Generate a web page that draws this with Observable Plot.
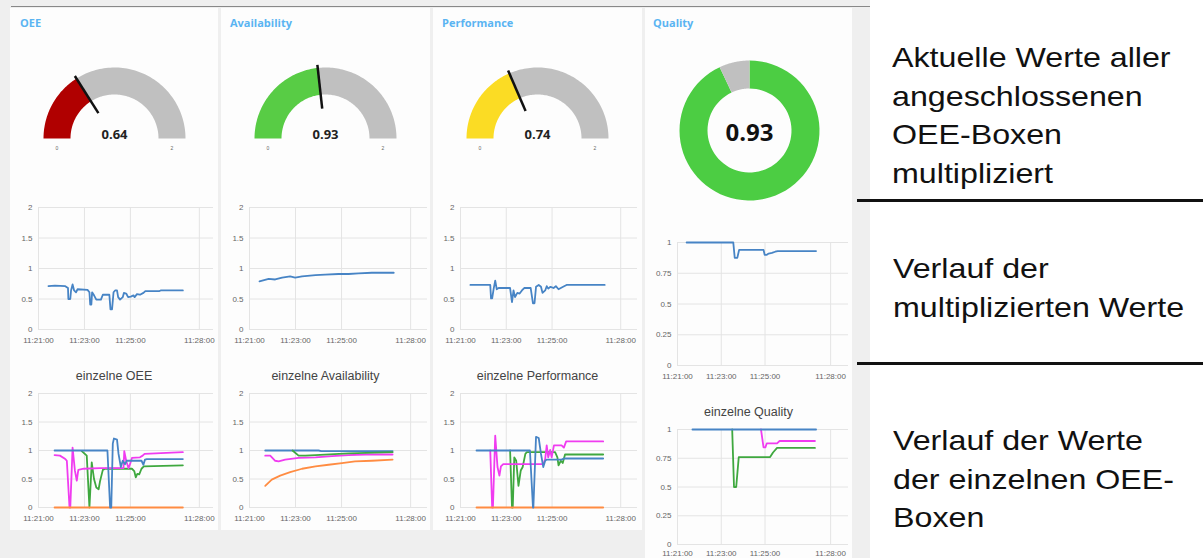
<!DOCTYPE html>
<html><head><meta charset="utf-8">
<script src="https://cdn.jsdelivr.net/npm/d3@7"></script>
<script src="https://cdn.jsdelivr.net/npm/@observablehq/plot@0.6"></script>
<style>
body{margin:0;width:1203px;height:558px;overflow:hidden;background:#fff;position:relative;font-family:"Liberation Sans",Arial,sans-serif}
.abs{position:absolute}
#dash{left:0;top:0;width:870px;height:558px;background:#efefef}
.card{background:#fdfdfd}
.ctitle{font-family:"Open Sans",sans-serif;font-weight:700;font-size:11px;line-height:14px;color:#5ab4f2;white-space:nowrap}
.stitle{font-family:"Liberation Sans",Arial,sans-serif;font-size:12.5px;line-height:16px;color:#444;text-align:center;white-space:nowrap}
.note{font-family:"Liberation Sans",Arial,sans-serif;font-size:28px;line-height:38.7px;color:#111;transform:scaleX(1.15);transform-origin:0 0;white-space:nowrap}
.bar{background:#111;height:3px}
</style></head><body>
<script>
// ---------- data ----------
const xTickLabels = ["11:21:00","11:23:00","11:25:00","11:28:00"];
const yTicks2 = [0,0.5,1,1.5,2];
const yTicks1 = [0,0.25,0.5,0.75,1];

const gaugeNames = ["OEE","Availability","Performance"];
const gaugeValues = [0.64,0.93,0.74];
const gaugeColors = ["#b00000","#58cc45","#fbdc24"];
const gaugeMin = 0, gaugeMax = 2;
const qualityValue = 0.93;

const bottomTitles = ["einzelne OEE","einzelne Availability","einzelne Performance","einzelne Quality"];

// multiplied values (row 2)
const oeeTotal = [["11:21:26",0.71],["11:21:43",0.72],["11:22:10",0.71],["11:22:17",0.68],["11:22:18",0.50],["11:22:23",0.50],["11:22:25",0.64],["11:22:29",0.74],["11:22:33",0.64],["11:22:38",0.61],["11:22:42",0.66],["11:23:08",0.65],["11:23:13",0.61],["11:23:15",0.41],["11:23:18",0.41],["11:23:20",0.61],["11:23:25",0.56],["11:23:31",0.49],["11:23:43",0.49],["11:23:48",0.57],["11:24:05",0.57],["11:24:08",0.33],["11:24:12",0.33],["11:24:16",0.61],["11:24:20",0.64],["11:24:25",0.64],["11:24:28",0.53],["11:24:33",0.49],["11:24:40",0.53],["11:24:43",0.60],["11:24:49",0.59],["11:24:54",0.53],["11:25:01",0.54],["11:25:08",0.56],["11:25:11",0.53],["11:25:17",0.58],["11:25:25",0.57],["11:25:34",0.60],["11:25:39",0.63],["11:26:16",0.63],["11:26:19",0.64],["11:27:17",0.64]];
const availabilityTotal = [["11:21:26",0.79],["11:21:50",0.83],["11:22:07",0.82],["11:22:25",0.85],["11:22:46",0.87],["11:22:59",0.85],["11:23:17",0.87],["11:23:52",0.89],["11:24:17",0.90],["11:24:52",0.91],["11:25:18",0.91],["11:25:44",0.92],["11:26:19",0.93],["11:27:16",0.93]];
const performanceTotal = [["11:21:26",0.73],["11:22:18",0.73],["11:22:20",0.51],["11:22:23",0.51],["11:22:27",0.67],["11:22:31",0.80],["11:22:35",0.66],["11:22:40",0.68],["11:23:10",0.68],["11:23:15",0.45],["11:23:19",0.64],["11:23:23",0.53],["11:23:29",0.60],["11:23:35",0.59],["11:23:41",0.64],["11:23:47",0.68],["11:24:04",0.68],["11:24:10",0.43],["11:24:14",0.43],["11:24:18",0.70],["11:24:25",0.73],["11:24:31",0.70],["11:24:35",0.60],["11:24:42",0.64],["11:24:46",0.71],["11:24:50",0.67],["11:24:56",0.70],["11:25:04",0.68],["11:25:10",0.71],["11:25:17",0.66],["11:25:23",0.68],["11:25:29",0.70],["11:25:38",0.73],["11:27:18",0.73]];
const qualityTotal = [["11:21:25",1.0],["11:23:33",1.0],["11:23:37",0.875],["11:23:44",0.875],["11:23:49",0.94],["11:24:56",0.94],["11:24:59",0.90],["11:25:05",0.90],["11:25:10",0.91],["11:25:19",0.915],["11:25:28",0.925],["11:25:35",0.93],["11:27:20",0.93]];

// individual boxes (row 3)
const oeeBlue = [["11:21:42",1.0],["11:24:00",1.0],["11:24:07",0],["11:24:10",0],["11:24:14",1.12],["11:24:17",1.21],["11:24:25",1.19],["11:24:29",0.94],["11:24:35",0.71],["11:24:40",0.82],["11:24:46",0.76],["11:24:50",0.82],["11:25:29",0.82],["11:25:34",0.75],["11:25:38",0.84],["11:25:43",0.85],["11:27:17",0.85]];
const oeeMagenta = [["11:21:42",0.92],["11:21:56",0.91],["11:22:10",0.85],["11:22:14",0.82],["11:22:21",0],["11:22:23",0],["11:22:29",1.05],["11:22:35",0.65],["11:22:40",0.47],["11:22:44",0.66],["11:22:58",0.68],["11:23:41",0.69],["11:24:42",0.69],["11:24:44",0.99],["11:24:49",0.82],["11:24:55",0.69],["11:24:59",0.76],["11:25:04",0.87],["11:25:25",0.88],["11:25:32",0.91],["11:25:37",0.94],["11:27:17",0.97]];
const oeeGreen = [["11:22:53",0.99],["11:23:06",0.91],["11:23:13",0],["11:23:19",0.79],["11:23:25",0.50],["11:23:31",0.35],["11:23:37",0.32],["11:23:41",0.47],["11:23:48",0.66],["11:23:54",0.68],["11:25:04",0.68],["11:25:10",0.64],["11:25:14",0.53],["11:25:18",0.59],["11:25:23",0.58],["11:25:29",0.68],["11:25:35",0.72],["11:27:17",0.74]];
const oeeOrange = [["11:21:42",0],["11:27:17",0]];

const avBlue = [["11:21:41",1.0],["11:24:00",1.0],["11:24:07",0.99],["11:27:13",0.99]];
const avGreen = [["11:22:52",1.0],["11:23:08",0.91],["11:23:25",0.91],["11:23:52",0.92],["11:25:18",0.95],["11:27:13",0.97]];
const avMagenta = [["11:21:41",0.91],["11:21:54",0.91],["11:22:07",0.82],["11:22:16",0.81],["11:22:33",0.84],["11:23:08",0.87],["11:23:52",0.88],["11:24:35",0.90],["11:25:18",0.92],["11:26:02",0.93],["11:27:13",0.93]];
const avOrange = [["11:21:41",0.38],["11:21:58",0.49],["11:22:20",0.56],["11:22:46",0.62],["11:23:17",0.68],["11:23:52",0.72],["11:24:26",0.75],["11:25:01",0.78],["11:25:35",0.81],["11:26:19",0.82],["11:27:13",0.84]];

const pfBlue = [["11:21:42",1.0],["11:24:02",1.0],["11:24:10",0],["11:24:11",0],["11:24:18",1.24],["11:24:25",1.22],["11:24:31",0.94],["11:24:37",0.71],["11:24:42",0.82],["11:24:46",0.84],["11:25:25",0.84],["11:25:31",0.86],["11:27:14",0.86]];
const pfMagenta = [["11:22:18",1.0],["11:22:23",0],["11:22:25",0],["11:22:31",1.26],["11:22:37",0.71],["11:22:42",0.56],["11:22:46",0.72],["11:22:52",0.76],["11:24:37",0.76],["11:24:42",0.85],["11:24:46",1.09],["11:24:50",0.88],["11:24:55",1.01],["11:24:59",0.88],["11:25:05",1.09],["11:25:25",1.09],["11:25:31",1.05],["11:25:37",1.16],["11:27:14",1.16]];
const pfGreen = [["11:23:10",1.0],["11:23:15",0],["11:23:17",0],["11:23:21",0.88],["11:23:26",0.82],["11:23:32",0.38],["11:23:38",0.65],["11:23:43",0.71],["11:23:50",0.94],["11:23:54",0.97],["11:25:08",0.97],["11:25:14",0.88],["11:25:17",0.74],["11:25:23",0.82],["11:25:28",0.78],["11:25:34",0.93],["11:27:14",0.93]];
const pfOrange = [["11:21:42",0],["11:27:14",0]];

const qBlue = [["11:21:41",1.0],["11:27:20",1.0]];
const qGreen = [["11:23:30",1.0],["11:23:35",0.5],["11:23:41",0.5],["11:23:48",0.76],["11:25:14",0.76],["11:25:22",0.80],["11:25:33",0.84],["11:27:17",0.84]];
const qMagenta = [["11:24:49",1.0],["11:24:56",0.845],["11:25:01",0.845],["11:25:05",0.88],["11:25:33",0.88],["11:25:40",0.90],["11:27:17",0.90]];

const seriesColors = {blue:"#4784c5", orange:"#ff8c42", green:"#3fa83f", magenta:"#f03cf0"};

// ---------- helpers ----------
const T = s => new Date(`2020-01-01T${s}Z`);
const fmt = d3.utcFormat("%H:%M:%S");
function box(cls, left, top, width, height, html) {
  const d = document.createElement("div");
  d.className = "abs " + (cls || "");
  d.style.left = left + "px"; d.style.top = top + "px";
  if (width != null) d.style.width = width + "px";
  if (height != null) d.style.height = height + "px";
  if (html != null) d.innerHTML = html;
  document.body.appendChild(d);
  return d;
}
function place(node, left, top, width, height) {
  const d = box("", left, top, width, height);
  d.appendChild(node);
}
const baseStyle = {background:"transparent", color:"#666", fontSize:"8px", fontFamily:"Liberation Sans, Arial, sans-serif", overflow:"visible"};

function lineChart({left, top, width, height, ml, mr, mt, mb, end, yMax, yTicks, series, pad = 8}) {
  const xt = xTickLabels.map(T);
  const svg = Plot.plot({
    width, height, marginLeft: ml, marginRight: mr, marginTop: mt, marginBottom: mb,
    style: baseStyle,
    x: {type: "utc", domain: [T("11:21:00"), T(end)], ticks: xt, tickFormat: fmt, tickSize: 0, tickPadding: pad, label: null},
    y: {domain: [0, yMax], ticks: yTicks, tickFormat: d => String(d), tickSize: 0, tickPadding: 6, label: null},
    marks: [
      Plot.ruleY(yTicks, {stroke: "#e4e4e4"}),
      Plot.ruleX(xt, {stroke: "#e4e4e4"}),
      ...series.map(([pts, color]) => Plot.line(pts, {x: d => T(d[0]), y: d => d[1], stroke: color, strokeWidth: 1.8}))
    ]
  });
  place(svg, left, top, width, height);
}

function arcPts(f0, f1, r0, r1, ang) {
  const n = 72, pts = [];
  for (let i = 0; i <= n; i++) { const [x, y] = ang(f0 + (f1 - f0) * i / n, r1); pts.push({x, y}); }
  for (let i = n; i >= 0; i--) { const [x, y] = ang(f0 + (f1 - f0) * i / n, r0); pts.push({x, y}); }
  return pts;
}
const gaugeAng = (f, r) => [r * Math.cos(Math.PI * (1 - f)), r * Math.sin(Math.PI * (1 - f))];
const donutAng = (f, r) => [r * Math.sin(2 * Math.PI * f), r * Math.cos(2 * Math.PI * f)];

// ---------- layout ----------
box("", 0, 0, 870, 558).id = "dash";
document.getElementById("dash").style.background = "#efefef";
box("", 11, 6, 859, 1).style.background = "#888";
const cards = [[10, 208, 522], [221, 209, 522], [433, 209, 522], [645, 207, 550]];
cards.forEach(([l, w, h]) => box("card", l, 8, w, h));
const titleX = [20, 230, 442, 653];
[...gaugeNames, "Quality"].forEach((t, i) => box("ctitle", titleX[i], 16, null, null, t));

// gauges
const gaugeCx = [114, 325, 537];
gaugeValues.forEach((v, i) => {
  const f = (v - gaugeMin) / (gaugeMax - gaugeMin);
  const svg = Plot.plot({
    width: 208, height: 110, marginLeft: 0, marginRight: 0, marginTop: 0, marginBottom: 0,
    style: {...baseStyle, color: "#555"},
    x: {domain: [-104, 104], axis: null}, y: {domain: [-25, 85], axis: null},
    marks: [
      Plot.line(arcPts(0, f, 44, 71, gaugeAng), {x: "x", y: "y", fill: gaugeColors[i], stroke: "none"}),
      Plot.line(arcPts(f, 1, 44, 71, gaugeAng), {x: "x", y: "y", fill: "#c0c0c0", stroke: "none"}),
      Plot.link([f], {x1: d => gaugeAng(d, 30)[0], y1: d => gaugeAng(d, 30)[1], x2: d => gaugeAng(d, 74)[0], y2: d => gaugeAng(d, 74)[1], stroke: "#111", strokeWidth: 2.5}),
      Plot.text([v], {x: () => 0, y: () => 0, text: d => d.toFixed(2), fontSize: 13, fontWeight: "bold", fontFamily: "Open Sans, sans-serif", fill: "#222", lineAnchor: "bottom"}),
      Plot.text([gaugeMin, gaugeMax], {x: d => gaugeAng((d - gaugeMin) / (gaugeMax - gaugeMin), 57.5)[0], y: () => -10, text: d => String(d), fontSize: 5, fill: "#666"})
    ]
  });
  place(svg, gaugeCx[i] - 104, 53, 208, 110);
});

// donut
{
  const svg = Plot.plot({
    width: 150, height: 150, marginLeft: 0, marginRight: 0, marginTop: 0, marginBottom: 0,
    style: baseStyle,
    x: {domain: [-75, 75], axis: null}, y: {domain: [-75, 75], axis: null},
    marks: [
      Plot.line(arcPts(0, qualityValue, 42, 70, donutAng), {x: "x", y: "y", fill: "#4ccd43", stroke: "none"}),
      Plot.line(arcPts(qualityValue, 1, 42, 70, donutAng), {x: "x", y: "y", fill: "#c0c0c0", stroke: "none"}),
      Plot.text([qualityValue], {x: () => 0, y: () => -3, text: d => d.toFixed(2), fontSize: 24, fontWeight: "bold", fontFamily: "Open Sans, sans-serif", fill: "#111"})
    ]
  });
  place(svg, 749 - 75, 130 - 75, 150, 150);
}

// row 2: multiplied values
const B = seriesColors.blue;
lineChart({left: 0, top: 195, width: 218, height: 155, ml: 38, mr: 5, mt: 12, mb: 21, end: "11:28:37", yMax: 2, yTicks: yTicks2, series: [[oeeTotal, B]]});
lineChart({left: 215, top: 195, width: 215, height: 155, ml: 34, mr: 3, mt: 12, mb: 21, end: "11:28:44", yMax: 2, yTicks: yTicks2, series: [[availabilityTotal, B]]});
lineChart({left: 430, top: 195, width: 212, height: 155, ml: 30, mr: 5, mt: 12, mb: 21, end: "11:28:44", yMax: 2, yTicks: yTicks2, series: [[performanceTotal, B]]});
lineChart({left: 640, top: 230, width: 212, height: 155, ml: 37, mr: 4, mt: 12, mb: 20, end: "11:28:49", yMax: 1, yTicks: yTicks1, series: [[qualityTotal, B]]});

// row 3: individual boxes
const C = seriesColors;
box("stitle", 10, 368, 208, 16, bottomTitles[0]);
box("stitle", 221, 368, 209, 16, bottomTitles[1]);
box("stitle", 433, 368, 209, 16, bottomTitles[2]);
box("stitle", 645, 404, 207, 16, bottomTitles[3]);
lineChart({left: 0, top: 380, width: 218, height: 148, ml: 38, mr: 5, mt: 13, mb: 21, end: "11:28:37", yMax: 2, yTicks: yTicks2,
  series: [[oeeGreen, C.green], [oeeMagenta, C.magenta], [oeeOrange, C.orange], [oeeBlue, C.blue]]});
lineChart({left: 215, top: 380, width: 215, height: 148, ml: 34, mr: 3, mt: 13, mb: 21, end: "11:28:44", yMax: 2, yTicks: yTicks2,
  series: [[avOrange, C.orange], [avMagenta, C.magenta], [avBlue, C.blue], [avGreen, C.green]]});
lineChart({left: 430, top: 380, width: 212, height: 148, ml: 30, mr: 5, mt: 13, mb: 21, end: "11:28:44", yMax: 2, yTicks: yTicks2,
  series: [[pfGreen, C.green], [pfMagenta, C.magenta], [pfOrange, C.orange], [pfBlue, C.blue]]});
lineChart({left: 640, top: 415, width: 212, height: 145, ml: 37, mr: 4, mt: 14, mb: 16, end: "11:28:49", yMax: 1, yTicks: yTicks1, pad: 6,
  series: [[qGreen, C.green], [qMagenta, C.magenta], [qBlue, C.blue]]});

// right-hand notes
box("note", 892, 39, null, null, "Aktuelle Werte aller<br>angeschlossenen<br>OEE-Boxen<br>multipliziert");
box("note", 893, 250, null, null, "Verlauf der<br>multiplizierten Werte");
box("note", 893, 422, null, null, "Verlauf der Werte<br>der einzelnen OEE-<br>Boxen");
box("bar", 857, 199, 346, 3);
box("bar", 857, 362, 346, 3);
</script>
</body></html>
